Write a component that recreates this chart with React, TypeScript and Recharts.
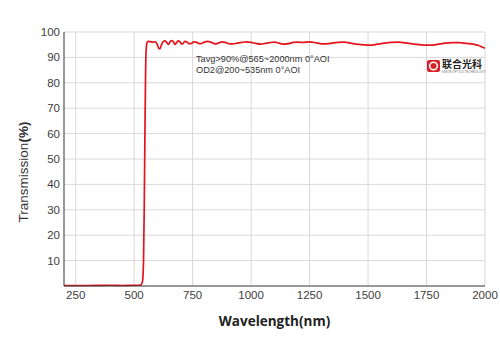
import React from "react";
import {
  LineChart,
  Line,
  XAxis,
  YAxis,
  CartesianGrid,
  Customized,
  Label
} from "recharts";

// wavelength (nm) and measured transmission (%)
const wavelengths = [
  200, 300, 400, 450, 500, 520, 530, 536, 540, 543, 546, 549, 552, 556, 562, 570, 580, 590, 598,
  605, 610, 616, 624, 632, 640, 647, 654, 661, 668, 675, 682, 689, 696, 703, 710, 717, 725, 735,
  745, 755, 765, 775, 785, 800, 815, 830, 845, 860, 875, 890, 905, 920, 940, 960, 980, 1000, 1020,
  1040, 1060, 1080, 1100, 1120, 1140, 1160, 1180, 1200, 1220, 1250, 1280, 1310, 1340, 1370, 1400,
  1430, 1460, 1490, 1510, 1540, 1570, 1600, 1630, 1660, 1690, 1720, 1750, 1770, 1800, 1830, 1860,
  1890, 1920, 1950, 1970, 1985, 2000
];
const transmission = [
  0.2, 0.2, 0.3, 0.2, 0.3, 0.3, 0.5, 2, 10, 30, 60, 85, 94, 96, 96.3, 96.2, 96, 96.1, 95.2,
  93.6, 93.3, 94.8, 96.2, 96.5, 95.8, 95.1, 96.2, 96.6, 96.1, 95.1, 95.9, 96.5, 96.1, 95.2, 95.6, 96.3, 96.1, 95.4,
  95.5, 96.1, 96.0, 95.5, 95.4, 96, 96.3, 95.9, 95.3, 95.6, 96.1, 95.9, 95.4, 95.3, 95.6, 95.9, 96.1, 95.9, 95.5,
  95.2, 95.5, 95.8, 96, 95.6, 95.2, 95.4, 95.9, 96, 95.9, 96.1, 95.7, 95.3, 95.5, 95.9, 96,
  95.5, 95.1, 94.9, 94.8, 95.2, 95.6, 95.9, 96, 95.7, 95.3, 95, 94.8, 94.8, 95.2, 95.6, 95.8,
  95.8, 95.5, 95.2, 94.8, 94.2, 93.6
];
const xTicks = [250, 500, 750, 1000, 1250, 1500, 1750, 2000];
const yTicks = [10, 20, 30, 40, 50, 60, 70, 80, 90, 100];
const noteLines = ["Tavg>90%@565~2000nm 0°AOI", "OD2@200~535nm 0°AOI"];

const data = wavelengths.map((w, i) => ({ wl: w, t: transmission[i] }));

const tickStyle = { fontSize: 11.5, fill: "#404040", fontFamily: "Liberation Sans, Arial, sans-serif" };

function Extras() {
  return (
    <g>
      <text
        transform="translate(28,172) rotate(-90)"
        textAnchor="middle"
        fontSize={13.5}
        fill="#333"
        fontFamily="Liberation Sans, Arial, sans-serif"
      >
        Transmission<tspan fontWeight="bold">(%)</tspan>
      </text>
      <text x={196} y={62} fontSize={9.2} fill="#333" fontFamily="Liberation Sans, Arial, sans-serif">
        {noteLines[0]}
      </text>
      <text x={196} y={72.5} fontSize={9.2} fill="#333" fontFamily="Liberation Sans, Arial, sans-serif">
        {noteLines[1]}
      </text>
      {/* logo */}
      <rect x={427} y={60} width={13} height={12} rx={2} fill="#d8232a" />
      <circle cx={433.5} cy={66} r={3.8} fill="none" stroke="#fff" strokeWidth={1.6} />
      <text x={442} y={68} fontSize={10} fontWeight="bold" fill="#222" fontFamily="Noto Sans CJK SC">
        联合光科
      </text>
      <text x={442} y={72.5} fontSize={3} fill="#777" fontFamily="Liberation Sans, Arial, sans-serif">
        UNION OPTICS TECHNOLOGY
      </text>
    </g>
  );
}

export default function App() {
  return (
    <div style={{ position: "absolute", left: 0, top: 0, background: "#fff" }}>
      <LineChart
        width={500}
        height={353}
        data={data}
        margin={{ top: 32, right: 15, left: 0, bottom: 0 }}
      >
        <CartesianGrid stroke="#d9d9d9" verticalValues={xTicks} horizontalValues={yTicks} />
        <XAxis
          dataKey="wl"
          type="number"
          domain={[200, 2000]}
          ticks={xTicks}
          tick={tickStyle}
          tickLine={false}
          tickSize={3}
          tickMargin={2}
          axisLine={{ stroke: "#333" }}
          height={67}
          allowDataOverflow
        >
          <Label
            value="Wavelength(nm)"
            position="insideBottom"
            offset={27}
            style={{ fontSize: 13.5, fontWeight: "bold", fill: "#222", fontFamily: "Open Sans" }}
          />
        </XAxis>
        <XAxis
          xAxisId="top"
          orientation="top"
          dataKey="wl"
          type="number"
          domain={[200, 2000]}
          tick={false}
          tickLine={false}
          axisLine={{ stroke: "#333" }}
          height={0}
        />
        <YAxis
          type="number"
          domain={[0, 100]}
          ticks={yTicks}
          tick={tickStyle}
          tickLine={false}
          tickSize={2}
          tickMargin={2}
          axisLine={{ stroke: "#333" }}
          width={64}
        />
        <YAxis
          yAxisId="right"
          orientation="right"
          domain={[0, 100]}
          tick={false}
          tickLine={false}
          axisLine={{ stroke: "#333" }}
          width={0}
        />
        <Line
          type="monotone"
          dataKey="t"
          stroke="#e3141c"
          strokeWidth={1.7}
          dot={false}
          isAnimationActive={false}
        />
        <Customized component={Extras} />
      </LineChart>
    </div>
  );
}
